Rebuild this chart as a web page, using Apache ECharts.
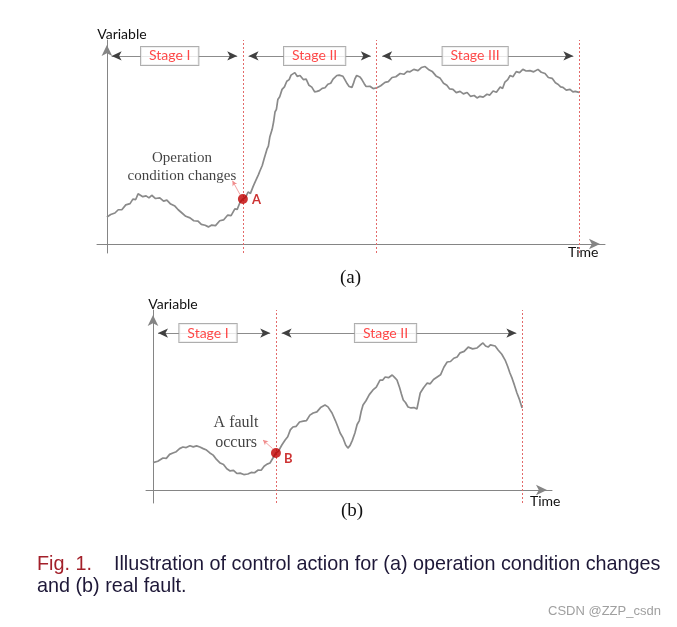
<!DOCTYPE html>
<html>
<head>
<meta charset="utf-8">
<script src="https://cdn.jsdelivr.net/npm/echarts@6/dist/echarts.min.js"></script>
<style>html,body{margin:0;padding:0;background:#fff}#chart{width:677px;height:627px}</style>
</head>
<body>
<div id="chart"></div>
<script>
// ---------- data ----------
const stageNamesA = ['Stage I', 'Stage II', 'Stage III'];
const stageBoundsA = [0, 28.8, 57.1, 100];
const stageNamesB = ['Stage I', 'Stage II'];
const stageBoundsB = [0, 33.3, 100];

const pointA = [28.8, 22.1];
const pointB = [33.3, 20.6];

const curveA = [
[0,13.2],[0.8,14.5],[1.7,15.2],[2.4,16.8],[3.2,16.9],[4.0,19.2],[4.9,19.8],[5.5,22.0],[6.1,21.8],[6.6,24.6],[7.0,25.0],
[7.6,23.2],[8.3,23.6],[8.9,22.6],[9.5,23.9],[10.3,22.3],[11.2,22.6],[12.0,21.0],[12.7,21.5],[13.5,19.6],[14.4,18.6],
[15.1,16.8],[15.9,15.2],[16.7,13.6],[17.6,12.8],[18.4,11.4],[19.3,11.2],[20.0,9.6],[20.8,9.2],[21.5,8.4],[22.2,9.3],
[23.0,9.0],[23.9,11.4],[24.7,11.8],[25.6,14.2],[26.3,13.9],[27.1,17.2],[27.6,17.0],[28.2,20.5],[28.8,22.1],
[29.4,23.0],[29.9,25.5],[30.4,24.8],[31.0,28.4],[31.4,30.5],[31.8,30.0],[32.1,34.0],[32.4,35.8],[32.9,38.5],[33.3,41.8],
[33.6,42.5],[33.9,46.5],[34.2,48.0],[34.5,52.4],[34.8,53.0],[35.0,56.2],[35.3,59.8],[35.6,64.7],[35.9,66.0],[36.2,70.8],
[36.6,72.2],[37.1,75.8],[37.6,77.0],[38.1,79.8],[38.6,80.6],[39.0,82.8],[39.4,82.6],[39.8,84.0],[40.3,82.2],[40.9,82.6],
[41.6,80.6],[42.2,80.8],[42.8,77.8],[43.4,76.9],[44.0,74.6],[44.5,74.8],[45.0,75.2],[45.6,76.3],[46.2,76.6],[46.8,78.3],
[47.4,78.8],[47.9,80.8],[48.3,81.6],[48.7,82.6],[49.2,82.8],[49.6,83.5],[50.0,82.2],[50.4,80.6],[50.9,78.5],[51.3,77.2],
[51.6,76.3],[51.9,76.8],[52.2,78.6],[52.5,80.8],[52.9,82.6],[53.2,83.0],[53.6,81.9],[54.0,80.6],[54.5,78.6],[54.9,77.2],
[55.3,77.8],[55.7,77.3],[56.4,76.2],[57.2,76.6],[58.0,77.6],[58.9,79.2],[59.6,79.6],[60.4,81.6],[61.2,82.0],[62.1,83.6],
[62.9,83.2],[63.6,84.6],[64.2,84.4],[65.0,85.6],[65.9,85.0],[66.6,86.5],[67.4,87.0],[68.1,85.6],[68.9,84.6],[69.7,82.4],
[70.6,81.2],[71.3,78.8],[72.0,77.8],[72.6,76.0],[73.3,75.8],[74.0,74.2],[74.8,74.8],[75.5,73.6],[76.3,74.3],[77.0,72.4],
[77.8,72.8],[78.4,71.6],[79.0,72.4],[79.7,72.0],[80.5,73.4],[81.1,73.0],[81.8,75.0],[82.5,74.4],[83.3,77.0],[83.8,76.2],
[84.3,79.4],[84.9,80.6],[85.4,82.6],[86.0,82.0],[86.7,84.5],[87.4,84.0],[88.1,85.6],[88.8,84.8],[89.6,85.0],[90.4,84.4],
[91.3,85.6],[92.0,84.2],[92.8,83.6],[93.5,81.6],[94.3,81.2],[95.0,79.0],[95.6,78.2],[96.1,77.0],[96.6,76.8],[97.3,75.4],
[98.1,75.8],[98.7,74.6],[99.2,74.8],[100,74.3]
];

const curveB = [
[0,15.2],[1.3,16.0],[2.7,17.8],[3.6,17.6],[4.5,19.8],[5.4,20.6],[6.3,21.3],[7.2,23.0],[8.1,23.9],[9.0,23.6],[10.0,24.6],
[10.9,24.0],[11.8,24.5],[12.7,23.9],[13.6,23.0],[14.5,22.2],[15.4,20.6],[16.3,19.4],[17.2,17.0],[18.2,15.0],[19.1,14.2],
[20.0,11.8],[20.9,10.6],[21.8,10.9],[22.7,9.2],[23.6,9.4],[24.6,8.6],[25.7,8.9],[26.6,9.8],[27.5,9.6],[28.5,11.1],
[29.3,11.0],[30.1,13.2],[30.9,14.4],[31.7,15.0],[32.5,17.8],[33.3,20.6],[34.0,21.6],[34.9,25.0],[35.8,27.8],[36.5,29.6],
[37.2,33.4],[37.9,35.0],[38.8,35.4],[39.7,37.8],[40.7,38.3],[41.6,38.6],[42.5,41.6],[43.4,42.8],[44.4,43.4],[45.4,45.8],
[46.6,47.2],[47.4,46.2],[48.5,42.8],[49.4,38.6],[50.1,35.0],[50.7,31.7],[51.5,28.8],[52.2,25.0],[52.8,23.3],[53.4,24.8],
[54.0,27.6],[54.7,31.7],[55.3,36.4],[55.9,38.6],[56.4,43.6],[56.9,47.2],[57.7,49.6],[58.6,53.0],[59.6,55.6],[60.5,57.2],
[61.5,61.1],[62.2,61.0],[62.9,62.8],[63.8,62.4],[64.8,63.9],[65.5,62.4],[66.1,61.1],[66.8,57.0],[67.3,53.4],[67.8,50.0],
[68.4,48.6],[69.1,46.1],[69.9,45.6],[70.7,45.8],[71.5,45.0],[71.9,49.0],[72.4,53.9],[73.3,56.8],[74.3,59.4],[75.1,59.0],
[76.0,61.4],[77.0,62.8],[77.9,64.0],[78.8,68.2],[79.7,71.1],[80.6,71.4],[81.5,73.2],[82.4,73.9],[83.2,76.2],[84.3,77.0],
[85.4,79.4],[86.6,78.4],[87.8,78.9],[88.6,80.4],[89.4,81.7],[90.1,80.0],[90.8,79.4],[91.4,80.6],[91.9,81.7],[92.7,80.0],
[93.5,77.8],[94.5,75.4],[95.4,72.2],[96.1,68.6],[96.7,65.0],[97.3,62.0],[97.9,58.4],[98.6,53.9],[99.3,50.2],[100,45.6]
];

// ---------- styling ----------
const AXIS_COLOR = '#858585';
const CURVE_COLOR = '#8a8a8a';
const RED = '#ff1a1a';
const DOT_RED = '#c00000';
const SANS = 'Lato';

function axisPair(idx, xmin, xmax, ymin, ymax, timeGap, timePad, varPad) {
  return {
    x: {
      type: 'value', gridIndex: idx, min: xmin, max: xmax,
      axisLine: { show: true, onZero: true, symbol: ['none', 'arrow'], symbolSize: [8, 11], symbolOffset: [0, -5],
                  lineStyle: { color: AXIS_COLOR, width: 1 } },
      axisTick: { show: false }, axisLabel: { show: false }, splitLine: { show: false },
      name: 'Time', nameLocation: 'end', nameGap: timeGap,
      nameTextStyle: { fontFamily: SANS, fontSize: 14, color: '#111', verticalAlign: 'top', lineHeight: 16, padding: [timePad, 0, 0, 0] }
    },
    y: {
      type: 'value', gridIndex: idx, min: ymin, max: ymax,
      axisLine: { show: true, onZero: true, symbol: ['none', 'arrow'], symbolSize: [8, 11], symbolOffset: [0, -5],
                  lineStyle: { color: AXIS_COLOR, width: 1 } },
      axisTick: { show: false }, axisLabel: { show: false }, splitLine: { show: false },
      name: 'Variable', nameLocation: 'end', nameGap: -2,
      nameTextStyle: { fontFamily: SANS, fontSize: 14, color: '#111', lineHeight: 16, padding: [0, 0, 0, varPad] }
    }
  };
}

const axA = axisPair(0, -2.1, 105.5, -4.4, 100, -37, 0, 30);
const axB = axisPair(1, -1.9, 108.1, -7.2, 100, -22, 3, 40);

function boundaryLines(bounds) {
  return bounds.slice(1).map(b => ({ xAxis: b }));
}
function stageArrows(bounds, y, inset) {
  const out = [];
  for (let i = 0; i < bounds.length - 1; i++) {
    out.push([{ coord: [bounds[i] + (i === 0 ? inset - 0.2 : inset), y] }, { coord: [bounds[i + 1] - inset, y] }]);
  }
  return out;
}
function stageBoxes(names, centers, y) {
  return names.map((n, i) => ({ name: n, value: [centers[i], y] }));
}

const boxLabel = {
  show: true, position: 'inside', formatter: '{b}',
  fontFamily: SANS, fontSize: 14, color: RED, lineHeight: 15,
  backgroundColor: '#fff', borderColor: '#9a9a9a', borderWidth: 1, padding: [2, 8, 1, 8]
};

// gray shaft of the stage arrows
const arrowShaft = {
  silent: true, symbol: ['none', 'none'], label: { show: false },
  lineStyle: { color: '#8c8c8c', type: 'solid', width: 1 }, emphasis: { disabled: true }
};
// dark heads of the stage arrows
const arrowHeads = {
  silent: true, symbol: ['arrow', 'arrow'], symbolSize: [7, 10], label: { show: false },
  lineStyle: { color: '#404040', type: 'solid', width: 0 }, emphasis: { disabled: true }
};

const option = {
  animation: false,
  backgroundColor: '#fff',
  title: [
    { text: '(a)', left: 340, top: 269, padding: 0,
      textStyle: { fontFamily: 'Liberation Serif', fontSize: 19, fontWeight: 'normal', color: '#111' } },
    { text: '(b)', left: 341, top: 502, padding: 0,
      textStyle: { fontFamily: 'Liberation Serif', fontSize: 19, fontWeight: 'normal', color: '#111' } },
    { text: '{r|Fig. 1.}{n|    Illustration of control action for (a) operation condition changes}\n{n|and (b) real fault.}',
      left: 37, top: 554, padding: 0,
      textStyle: { fontWeight: 'normal', fontFamily: 'Liberation Sans', fontSize: 19.8, rich: {
        r: { fontFamily: 'Liberation Sans', fontSize: 19.8, fontWeight: 'normal', color: '#a3202a', lineHeight: 22 },
        n: { fontFamily: 'Liberation Sans', fontSize: 19.8, fontWeight: 'normal', color: '#1e1838', lineHeight: 22 }
      } } },
    { text: 'CSDN @ZZP_csdn', left: 548, top: 605, padding: 0,
      textStyle: { fontFamily: 'Liberation Sans', fontSize: 13, fontWeight: 'normal', color: '#a0a0a0' } }
  ],
  grid: [
    { left: 97, top: 40, width: 508, height: 213 },
    { left: 146, top: 310, width: 406, height: 193 }
  ],
  xAxis: [axA.x, axB.x],
  yAxis: [axA.y, axB.y],
  series: [
    // ----- (a) -----
    { type: 'line', xAxisIndex: 0, yAxisIndex: 0, data: curveA, showSymbol: false, symbol: 'none', silent: true,
      lineStyle: { color: CURVE_COLOR, width: 1.7 }, z: 3,
      markLine: { silent: true, symbol: ['none', 'none'], label: { show: false },
        lineStyle: { color: '#e36a6a', type: [2, 2], width: 1 }, data: boundaryLines(stageBoundsA) } },
    { type: 'line', xAxisIndex: 0, yAxisIndex: 0, data: [], silent: true,
      markLine: Object.assign({}, arrowShaft, { data: stageArrows(stageBoundsA, 92.2, 1.2) }) },
    { type: 'line', xAxisIndex: 0, yAxisIndex: 0, data: [], silent: true,
      markLine: Object.assign({}, arrowHeads, { data: stageArrows(stageBoundsA, 92.2, 1.2) }) },
    { type: 'scatter', xAxisIndex: 0, yAxisIndex: 0, symbolSize: 0, silent: true, z: 6,
      label: boxLabel, data: stageBoxes(stageNamesA, [13.3, 44.0, 78.0], 92.2) },
    { type: 'scatter', xAxisIndex: 0, yAxisIndex: 0, symbolSize: 0, silent: true, z: 6,
      label: { show: true, position: 'inside', formatter: 'Operation\ncondition changes', fontFamily: 'Liberation Serif',
               fontSize: 15, color: '#111', lineHeight: 18, align: 'center' },
      data: [[15.9, 37.6]] },
    { type: 'scatter', xAxisIndex: 0, yAxisIndex: 0, symbolSize: 10, silent: true, z: 7,
      itemStyle: { color: DOT_RED },
      label: { show: true, position: 'right', distance: 4, formatter: 'A', fontFamily: SANS, fontWeight: 'bold',
               fontSize: 13, color: DOT_RED, offset: [0, 1] },
      data: [pointA],
      markLine: { silent: true, symbol: ['none', 'arrow'], symbolSize: [4, 5], label: { show: false },
        lineStyle: { color: '#f08c8c', type: 'solid', width: 0.8 },
        data: [[{ coord: [28.2, 24.2] }, { coord: [26.6, 31.0] }]] } },
    // ----- (b) -----
    { type: 'line', xAxisIndex: 1, yAxisIndex: 1, data: curveB, showSymbol: false, symbol: 'none', silent: true,
      lineStyle: { color: CURVE_COLOR, width: 1.7 }, z: 3,
      markLine: { silent: true, symbol: ['none', 'none'], label: { show: false },
        lineStyle: { color: '#e36a6a', type: [2, 2], width: 1 }, data: boundaryLines(stageBoundsB) } },
    { type: 'line', xAxisIndex: 1, yAxisIndex: 1, data: [], silent: true,
      markLine: Object.assign({}, arrowShaft, { data: stageArrows(stageBoundsB, 87.2, 1.55) }) },
    { type: 'line', xAxisIndex: 1, yAxisIndex: 1, data: [], silent: true,
      markLine: Object.assign({}, arrowHeads, { data: stageArrows(stageBoundsB, 87.2, 1.55) }) },
    { type: 'scatter', xAxisIndex: 1, yAxisIndex: 1, symbolSize: 0, silent: true, z: 6,
      label: boxLabel, data: stageBoxes(stageNamesB, [14.9, 63.0], 87.2) },
    { type: 'scatter', xAxisIndex: 1, yAxisIndex: 1, symbolSize: 0, silent: true, z: 6,
      label: { show: true, position: 'inside', formatter: 'A fault\noccurs', fontFamily: 'Liberation Serif',
               fontSize: 16, color: '#111', lineHeight: 20, align: 'center' },
      data: [[22.5, 31.7]] },
    { type: 'scatter', xAxisIndex: 1, yAxisIndex: 1, symbolSize: 10, silent: true, z: 7,
      itemStyle: { color: DOT_RED },
      label: { show: true, position: 'right', distance: 3, formatter: 'B', fontFamily: SANS, fontWeight: 'bold',
               fontSize: 13, color: DOT_RED, offset: [0, 6] },
      data: [pointB],
      markLine: { silent: true, symbol: ['none', 'arrow'], symbolSize: [4, 5], label: { show: false },
        lineStyle: { color: '#f08c8c', type: 'solid', width: 0.8 },
        data: [[{ coord: [32.4, 23.0] }, { coord: [29.8, 27.8] }]] } }
  ]
};

const chart = echarts.init(document.getElementById('chart'), null, { renderer: 'canvas' });
chart.setOption(option);
</script>
</body>
</html>
